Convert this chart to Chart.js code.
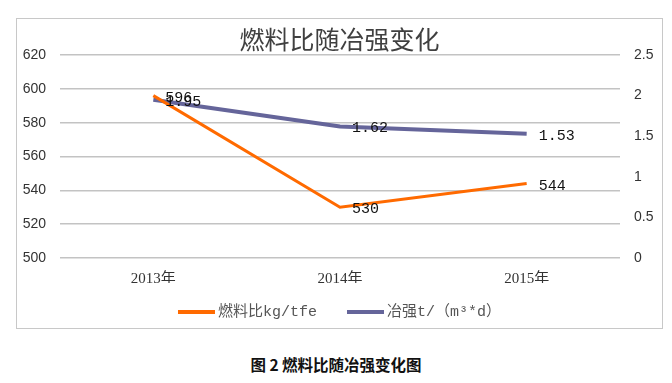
<!DOCTYPE html>
<html>
<head>
<meta charset="utf-8">
<script src="https://cdn.jsdelivr.net/npm/chart.js@4"></script>
<style>
  html, body { margin: 0; padding: 0; background: #fff; }
  body { width: 672px; height: 383px; position: relative; overflow: hidden; }
  #frame {
    position: absolute; left: 16px; top: 18px;
    width: 645px; height: 309px;
    border: 1px solid #c8c8c8;
  }
  #caption {
    position: absolute; left: 0; width: 672px; top: 353px;
    text-align: center;
    font: bold 15.5px "Noto Sans CJK SC", sans-serif;
    color: #111;
  }
</style>
</head>
<body>
<div id="frame"><canvas id="chart" width="645" height="309"></canvas></div>
<div id="caption">图 2 燃料比随冶强变化图</div>
<script>
// chart data
const years = ['2013年', '2014年', '2015年'];
const fuelRatio = [596, 530, 544];        // kg/tfe, left axis
const smeltIntensity = [1.95, 1.62, 1.53]; // t/(m³*d), right axis
const leftTicks = [500, 520, 540, 560, 580, 600, 620];
const rightTicks = [0, 0.5, 1, 1.5, 2, 2.5];

const ORANGE = '#ff6a00';
const PURPLE = '#65659a';
const cjk = '"Noto Sans CJK SC", sans-serif';
const serif = '"Liberation Serif", "Noto Sans CJK SC", serif';
const mono = '"Liberation Mono", "Noto Sans CJK SC", monospace';

// draw value labels to the right of each point
const valueLabels = {
    id: 'valueLabels',
    afterDatasetsDraw(chart) {
        const ctx = chart.ctx;
        ctx.save();
        ctx.font = '15px ' + mono;
        ctx.fillStyle = '#111';
        ctx.textBaseline = 'middle';
        chart.data.datasets.forEach((ds, i) => {
            chart.getDatasetMeta(i).data.forEach((pt, j) => {
                ctx.fillText(String(ds.data[j]), pt.x + 12, pt.y + 2);
            });
        });
        ctx.restore();
    }
};

// simple bottom legend: line swatch + label, items centred
const lineLegend = {
    id: 'lineLegend',
    afterDraw(chart) {
        const ctx = chart.ctx;
        const swatch = 37, gap = 3, itemGap = 30;
        ctx.save();
        ctx.font = '15px ' + mono;
        ctx.textBaseline = 'middle';
        const items = chart.data.datasets.map(ds => ({
            text: ds.label, color: ds.borderColor, w: ctx.measureText(ds.label).width
        }));
        let total = items.reduce((s, it) => s + swatch + gap + it.w, 0) + itemGap * (items.length - 1);
        let x = (chart.width - total) / 2;
        const y = chart.chartArea.bottom + 54;
        items.forEach(it => {
            ctx.strokeStyle = it.color;
            ctx.lineWidth = 4;
            ctx.beginPath();
            ctx.moveTo(x, y);
            ctx.lineTo(x + swatch, y);
            ctx.stroke();
            ctx.fillStyle = '#555';
            ctx.fillText(it.text, x + swatch + gap, y);
            x += swatch + gap + it.w + itemGap;
        });
        ctx.restore();
    }
};

new Chart(document.getElementById('chart'), {
    type: 'line',
    data: {
        labels: years,
        datasets: [
            {
                label: '燃料比kg/tfe',
                data: fuelRatio,
                yAxisID: 'y',
                borderColor: ORANGE,
                backgroundColor: ORANGE,
                borderWidth: 3,
                pointRadius: 0,
                tension: 0
            },
            {
                label: '冶强t/（m³*d）',
                data: smeltIntensity,
                yAxisID: 'y1',
                borderColor: PURPLE,
                backgroundColor: PURPLE,
                borderWidth: 4,
                pointRadius: 0,
                tension: 0
            }
        ]
    },
    options: {
        responsive: false,
        animation: false,
        layout: { padding: { left: 0, right: 0, top: 0, bottom: 45 } },
        plugins: {
            title: {
                display: true,
                text: '燃料比随冶强变化',
                color: '#404040',
                font: { family: cjk, size: 25, weight: 'normal' },
                padding: { top: 5, bottom: 1 }
            },
            legend: { display: false },
            tooltip: { enabled: false }
        },
        scales: {
            x: {
                offset: true,
                grid: { display: false },
                border: { display: false },
                ticks: { color: '#333', font: { family: serif, size: 15 }, padding: 4 },
                afterFit(s) { s.height = 25; }
            },
            y: {
                position: 'left',
                min: 500,
                max: 620,
                afterBuildTicks(s) { s.ticks = leftTicks.map(v => ({ value: v })); },
                grid: { color: '#c3c3c3', lineWidth: 1.5, drawTicks: false },
                border: { display: false },
                ticks: { color: '#333', font: { family: '"Liberation Sans", sans-serif', size: 14 }, padding: 14 },
                afterFit(s) { s.width = 43; }
            },
            y1: {
                position: 'right',
                min: 0,
                max: 2.5,
                afterBuildTicks(s) { s.ticks = rightTicks.map(v => ({ value: v })); },
                grid: { display: false, drawTicks: false },
                border: { display: false },
                ticks: { color: '#333', font: { family: '"Liberation Sans", sans-serif', size: 14 }, padding: 14,
                         callback: v => String(v) },
                afterFit(s) { s.width = 42; }
            }
        }
    },
    plugins: [valueLabels, lineLegend]
});
</script>
</body>
</html>
